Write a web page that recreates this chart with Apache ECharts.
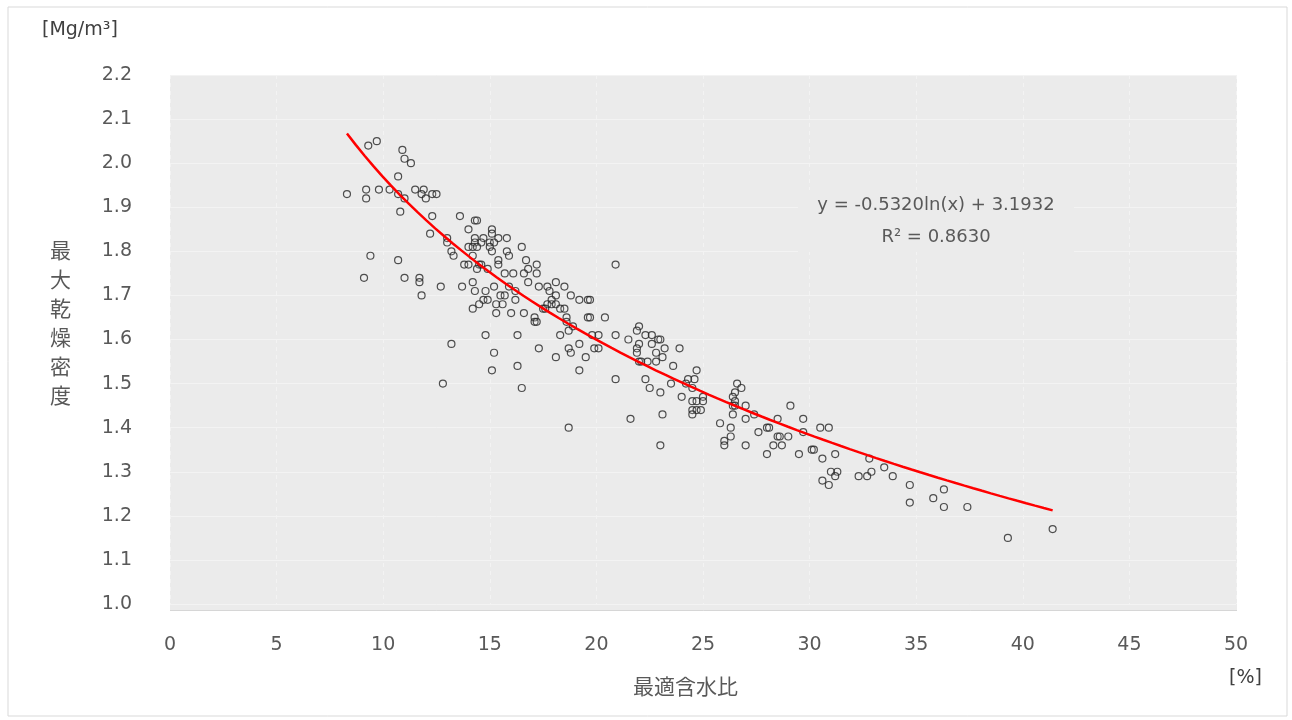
<!DOCTYPE html>
<html>
<head>
<meta charset="utf-8">
<script src="https://cdn.jsdelivr.net/npm/echarts@6/dist/echarts.min.js"></script>
<style>html,body{margin:0;padding:0;background:#fff}#c{width:1292px;height:720px}</style>
</head>
<body>
<div id="c"></div>
<script>
// Optimum moisture content [%]
const moistureContent = [
 9.3,9.7,10.9,11.0,11.3,10.7,8.3,9.2,9.2,9.8,10.3,10.7,11.0,11.5,11.9,11.8,12.0,12.3,12.5,10.8,
 12.3,13.6,14.3,14.4,14.0,12.2,13.0,13.0,14.3,14.7,15.1,15.1,15.4,15.8,14.3,14.6,15.0,15.2,14.0,14.2,
 14.4,15.0,15.1,16.5,13.2,13.3,14.2,15.8,15.9,16.7,13.8,14.0,14.5,14.6,14.4,14.9,15.4,15.4,16.8,15.7,
 16.1,16.6,16.8,9.4,10.7,9.1,11.0,11.7,11.7,11.8,12.7,13.7,14.2,15.2,14.3,14.8,15.9,15.5,15.7,16.2,
 14.7,14.5,14.9,14.2,15.3,15.6,15.3,16.0,16.6,16.2,14.8,16.3,13.2,15.2,15.1,16.3,16.5,12.8,
 20.9,17.2,17.2,17.3,17.7,18.1,18.5,17.8,18.1,18.8,19.2,19.6,19.7,17.9,17.7,17.9,18.1,17.5,17.6,18.3,
 18.5,17.1,17.1,17.2,18.6,19.6,19.7,20.4,18.6,18.9,18.7,18.3,19.8,20.1,20.9,17.3,18.7,18.8,19.2,19.9,
 20.1,18.1,19.5,19.2,20.9,18.7,22.0,21.9,21.5,22.3,22.6,22.9,23.0,22.0,21.9,22.6,23.2,23.9,21.9,22.8,
 23.1,22.0,22.1,22.4,22.8,23.6,24.7,22.3,24.3,24.6,23.5,24.2,24.5,22.5,23.0,24.0,24.5,24.7,25.0,25.0,
 24.5,24.7,24.9,24.5,23.1,21.6,25.8,23.0,26.0,26.0,
 26.6,26.8,26.5,26.4,26.5,26.4,26.5,27.0,26.4,27.4,27.0,29.1,28.5,26.3,27.6,28.0,28.1,26.3,28.5,28.6,
 29.0,27.0,28.3,28.7,28.0,29.5,
 29.7,29.7,30.5,30.9,30.1,30.2,31.2,30.6,31.0,31.3,31.2,30.6,30.9,32.3,32.7,32.9,32.8,33.5,33.9,
 34.7,34.7,36.3,35.8,36.3,37.4,39.3,41.4
];
// Maximum dry density [Mg/m3]
const dryDensity = [
 2.04,2.05,2.03,2.01,2.00,1.97,1.93,1.94,1.92,1.94,1.94,1.93,1.92,1.94,1.94,1.93,1.92,1.93,1.93,1.89,
 1.88,1.88,1.87,1.87,1.85,1.84,1.83,1.82,1.83,1.83,1.85,1.84,1.83,1.83,1.82,1.82,1.82,1.82,1.81,1.81,
 1.81,1.81,1.80,1.81,1.80,1.79,1.79,1.80,1.79,1.78,1.77,1.77,1.77,1.77,1.76,1.76,1.78,1.77,1.76,1.75,
 1.75,1.75,1.73,1.79,1.78,1.74,1.74,1.74,1.73,1.70,1.72,1.72,1.73,1.72,1.71,1.71,1.72,1.70,1.70,1.71,
 1.69,1.68,1.69,1.67,1.68,1.68,1.66,1.66,1.66,1.69,1.61,1.61,1.59,1.57,1.53,1.54,1.49,1.50,
 1.77,1.77,1.75,1.72,1.72,1.73,1.72,1.71,1.70,1.70,1.69,1.69,1.69,1.69,1.68,1.68,1.68,1.67,1.67,1.67,
 1.67,1.65,1.64,1.64,1.65,1.65,1.65,1.65,1.64,1.63,1.62,1.61,1.61,1.61,1.61,1.58,1.58,1.57,1.59,1.58,
 1.58,1.56,1.56,1.53,1.51,1.40,1.63,1.62,1.60,1.61,1.61,1.60,1.60,1.59,1.58,1.59,1.58,1.58,1.57,1.57,
 1.56,1.55,1.55,1.55,1.55,1.54,1.53,1.51,1.51,1.51,1.50,1.50,1.49,1.49,1.48,1.47,1.46,1.46,1.47,1.46,
 1.44,1.44,1.44,1.43,1.43,1.42,1.41,1.36,1.37,1.36,
 1.50,1.49,1.48,1.47,1.46,1.45,1.45,1.45,1.43,1.43,1.42,1.45,1.42,1.40,1.39,1.40,1.40,1.38,1.38,1.38,
 1.38,1.36,1.36,1.36,1.34,1.34,
 1.42,1.39,1.40,1.40,1.35,1.35,1.34,1.33,1.30,1.30,1.29,1.28,1.27,1.29,1.29,1.30,1.33,1.31,1.29,
 1.27,1.23,1.26,1.24,1.22,1.22,1.15,1.17
];
// Logarithmic trendline shown on the chart: y = a ln(x) + b
const trendCoef = [-0.5320, 3.1932];
const trendRange = [8.3, 41.4];
const xTicks = [0,5,10,15,20,25,30,35,40,45,50];
const yTicks = ['1.0','1.1','1.2','1.3','1.4','1.5','1.6','1.7','1.8','1.9','2.0','2.1','2.2'];
const labels = {
  yUnit: '[Mg/m³]', yTitle: '最大乾燥密度', xTitle: '最適含水比', xUnit: '[%]',
  eq: 'y = -0.5320ln(x) + 3.1932', r2: 'R² = 0.8630'
};

const points = moistureContent.map((x, i) => [x, dryDensity[i]]);
const trend = [];
for (let k = 0; k <= 80; k++) {
  const x = trendRange[0] + (trendRange[1] - trendRange[0]) * k / 80;
  trend.push([x, trendCoef[0] * Math.log(x) + trendCoef[1]]);
}

const chart = echarts.init(document.getElementById('c'), null, {renderer: 'canvas'});
const font = "'DejaVu Sans', 'Noto Sans CJK JP', sans-serif";
const cjk = "'Noto Sans CJK JP', sans-serif";
chart.setOption({
  animation: false,
  backgroundColor: '#ffffff',
  grid: {left: 170, right: 56, top: 75, bottom: 116},
  xAxis: {
    type: 'value', min: 0, max: 50, interval: 5,
    axisLine: {show: false}, axisTick: {show: false},
    axisLabel: {fontSize: 19, color: '#595959', margin: 32, fontFamily: font,
      formatter: v => String(xTicks[Math.round(v / 5)])},
    splitLine: {show: true, lineStyle: {color: '#f3f3f3', width: 1, type: [4, 4]}}
  },
  yAxis: {
    type: 'value', min: 1.0, max: 2.2, interval: 0.1,
    axisLine: {show: false}, axisTick: {show: false},
    axisLabel: {fontSize: 19, color: '#595959', margin: 38, fontFamily: font,
      formatter: v => yTicks[Math.round((v - 1.0) * 10)]},
    splitLine: {show: true, lineStyle: {color: '#f3f3f3', width: 1}}
  },
  graphic: [
    {type: 'rect', z: -20, silent: true, shape: {x: 8, y: 7, width: 1279, height: 709},
      style: {fill: '#ffffff', stroke: '#d9d9d9', lineWidth: 1}},
    {type: 'rect', z: -10, silent: true, shape: {x: 170, y: 75, width: 1067, height: 536},
      style: {fill: '#ebebeb'}},
    {type: 'line', z: -9, silent: true, shape: {x1: 170, y1: 610.5, x2: 1237, y2: 610.5},
      style: {stroke: '#d6d6d6', lineWidth: 1}},
    {type: 'text', left: 42, top: 21, style: {text: labels.yUnit, font: '19px ' + font, fill: '#404040'}},
    {type: 'text', left: 50, top: 236, style: {text: labels.yTitle.split('').join('\n'),
      font: '21px ' + cjk, fill: '#595959', lineHeight: 29, align: 'center'}},
    {type: 'text', left: 633, top: 676, style: {text: labels.xTitle, font: '21px ' + cjk, fill: '#595959'}},
    {type: 'text', left: 1229, top: 669, style: {text: labels.xUnit, font: '19px ' + font, fill: '#404040'}},
    {type: 'rect', z: 1, silent: true, shape: {x: 798, y: 190, width: 276, height: 62},
      style: {fill: '#ebebeb'}},
    {type: 'text', z: 2, x: 936, y: 205, style: {text: labels.eq, font: '18px ' + font, fill: '#595959',
      align: 'center', verticalAlign: 'middle'}},
    {type: 'text', z: 2, x: 936, y: 237, style: {text: labels.r2, font: '18px ' + font, fill: '#595959',
      align: 'center', verticalAlign: 'middle'}}
  ],
  series: [
    {type: 'scatter', data: points, symbol: 'circle', symbolSize: 7,
      itemStyle: {color: 'rgba(255,255,255,0.15)', borderColor: '#262626', borderWidth: 1.2}, z: 3},
    {type: 'line', data: trend, showSymbol: false, smooth: false,
      lineStyle: {color: '#ff0000', width: 2.5}, z: 4}
  ]
});
</script>
</body>
</html>
